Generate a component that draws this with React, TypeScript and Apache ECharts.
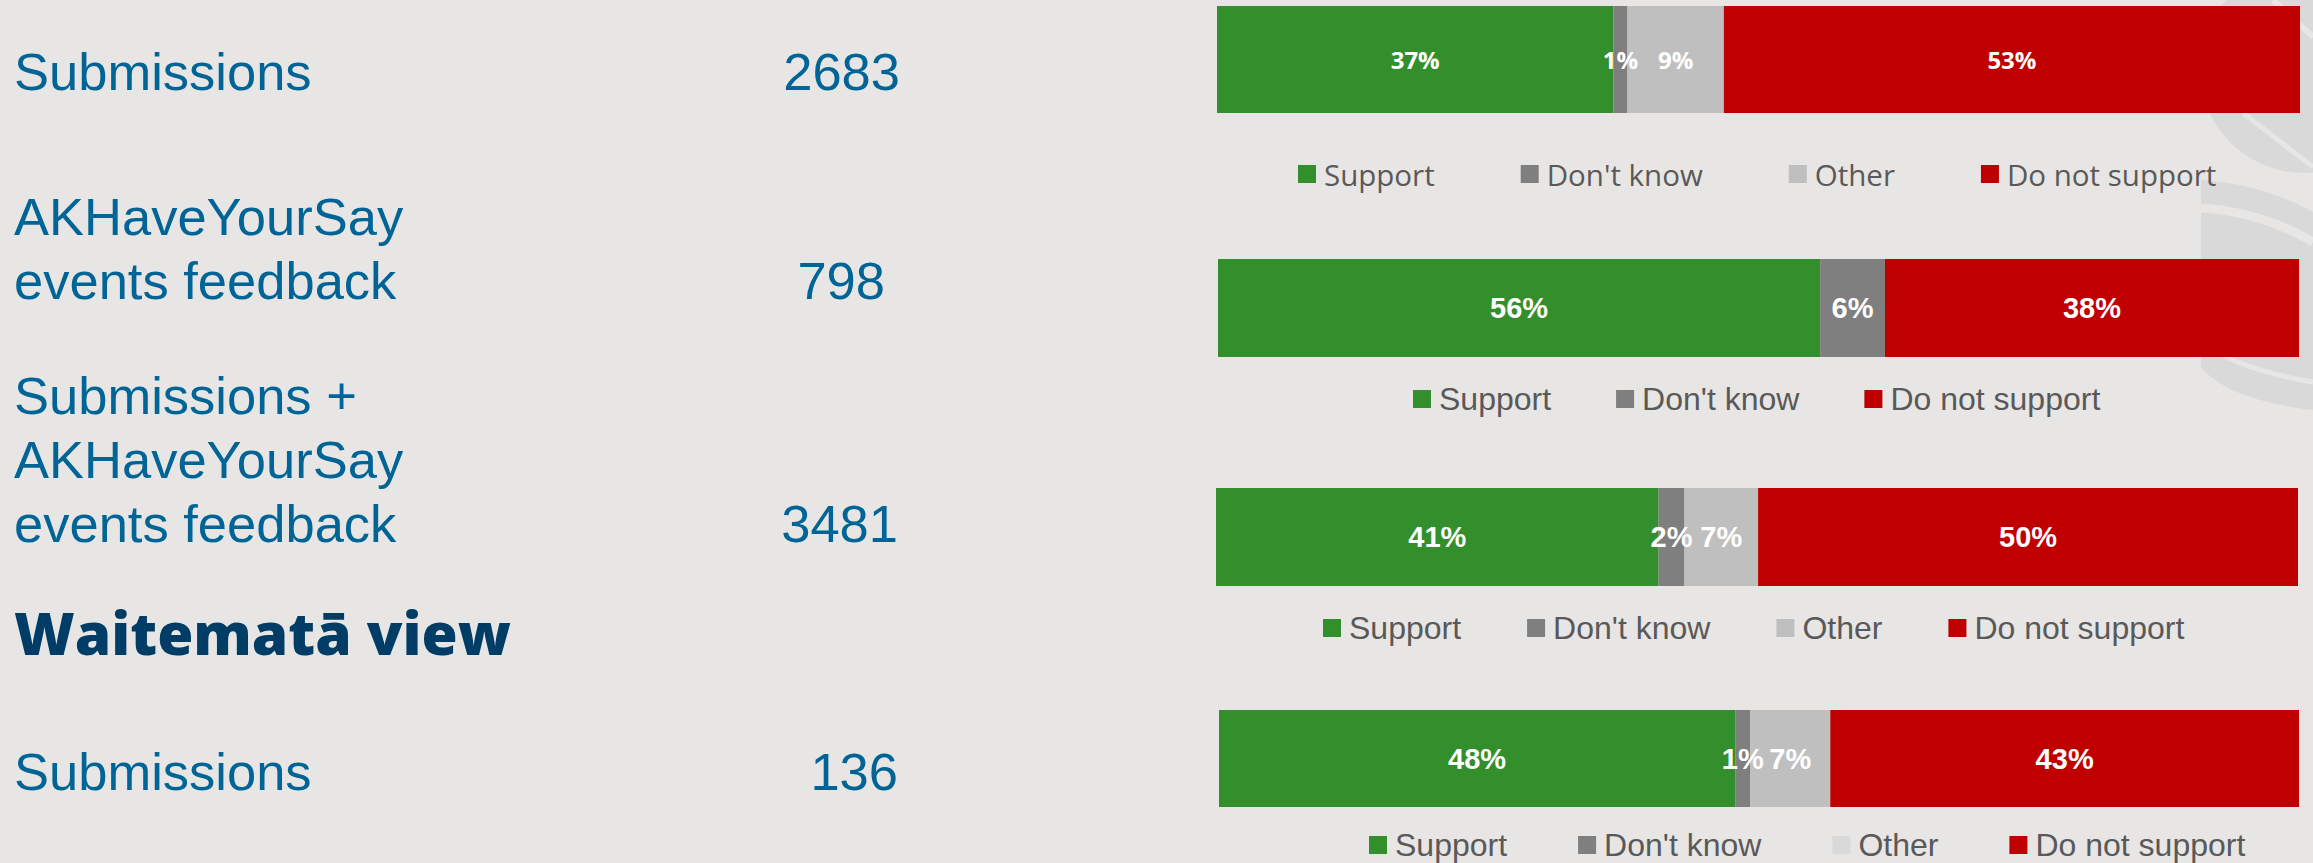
import React, { useEffect, useRef } from "react";
import * as echarts from "echarts";

const W = 2313;
const H = 863;
const BG = "#E8E6E4";
const DECO = "#D9D9D9";

// ---- data ----
const categories = ["Support", "Don't know", "Other", "Do not support"];
const colors = ["#338F2B", "#7F7F7F", "#BFBFBF", "#C00000"];

const rowLabels = [
  ["Submissions"],
  ["AKHaveYourSay", "events feedback"],
  ["Submissions +", "AKHaveYourSay", "events feedback"],
  ["Submissions"],
];
const rowCounts = [2683, 798, 3481, 136];
const sectionTitle = "Waitematā view";

const row1 = [36.6, 1.3, 8.9, 53.2];
const row2 = [55.7, 6.0, null, 38.3];
const row3 = [40.9, 2.4, 6.8, 49.9];
const row4 = [47.8, 1.4, 7.4, 43.4];
const rows: (number | null)[][] = [row1, row2, row3, row4];

// ---- layout ----
const grids = [
  { left: 1217, top: 6, width: 1083, height: 107 },
  { left: 1218, top: 259, width: 1081, height: 98 },
  { left: 1216, top: 488, width: 1082, height: 98 },
  { left: 1219, top: 710, width: 1080, height: 97 },
];
const SANS = '"Liberation Sans", Arial, sans-serif';
const OPEN = '"Open Sans", sans-serif';
const legendCfg = [
  { left: 1298, cy: 174, gap: 86, font: OPEN, size: 29.5, lh: 32 },
  { left: 1413, cy: 399, gap: 65, font: SANS, size: 32, lh: 32 },
  { left: 1323, cy: 628, gap: 66, font: SANS, size: 32, lh: 32 },
  { left: 1369, cy: 843, gap: 71, font: SANS, size: 32, lh: 28 },
];
const legendIconOverride: Record<number, Record<string, string>> = { 3: { Other: "#D9D9D9" } };
const labelCfg = [
  { font: OPEN, size: 24 },
  { font: SANS, size: 29 },
  { font: SANS, size: 29 },
  { font: SANS, size: 29 },
];
const lastLineY = [71, 280, 523, 771];
const countRight = [900, 885, 898, 898];
const LINE_STEP = 64;

function quad(p0: number[], c: number[], p1: number[], n = 16) {
  const pts: number[][] = [];
  for (let i = 0; i <= n; i++) {
    const t = i / n;
    const a = (1 - t) * (1 - t), b = 2 * (1 - t) * t, d = t * t;
    pts.push([a * p0[0] + b * c[0] + d * p1[0], a * p0[1] + b * c[1] + d * p1[1]]);
  }
  return pts;
}

export default function App() {
  const ref = useRef<HTMLDivElement>(null);
  useEffect(() => {
    if (!ref.current) return;
    const chart = echarts.init(ref.current, null, { renderer: "svg", width: W, height: H });

    const series: any[] = [];
    rows.forEach((row, r) => {
      row.forEach((v, i) => {
        if (v == null) return;
        series.push({
          type: "bar",
          name: categories[i],
          stack: "row" + r,
          xAxisIndex: r,
          yAxisIndex: r,
          barWidth: "100%",
          data: [v],
          itemStyle: { color: colors[i] },
          label: {
            show: true,
            position: "inside",
            color: "#FFFFFF",
            fontWeight: "bold",
            fontFamily: labelCfg[r].font,
            fontSize: labelCfg[r].size,
            formatter: (p: any) => Math.round(p.value) + "%",
          },
          emphasis: { disabled: true },
        });
      });
    });

    const graphics: any[] = [];
    // decorative background shapes
    graphics.push({ type: "circle", z: 0, shape: { cx: 2304, cy: 69, r: 104 }, style: { fill: DECO } });
    graphics.push({ type: "line", z: 1, shape: { x1: 2243, y1: 113, x2: 2313, y2: 167 }, style: { stroke: BG, lineWidth: 5 } });
    graphics.push({ type: "line", z: 1, shape: { x1: 2273, y1: 0, x2: 2313, y2: 37 }, style: { stroke: BG, lineWidth: 6 } });
    const top = quad([2201, 180], [2262, 184], [2313, 212]);
    const bottom = quad([2313, 410], [2228, 400], [2201, 367]);
    graphics.push({ type: "polygon", z: 0, shape: { points: [...top, ...bottom] }, style: { fill: DECO } });
    graphics.push({ type: "polyline", z: 1, shape: { points: quad([2201, 208], [2262, 212], [2313, 242]) }, style: { stroke: BG, lineWidth: 9, fill: "none" } });
    graphics.push({ type: "polyline", z: 1, shape: { points: quad([2201, 342], [2240, 370], [2313, 382]) }, style: { stroke: BG, lineWidth: 5, fill: "none" } });

    // left labels and counts
    rowLabels.forEach((lines, r) => {
      lines.forEach((t, i) => {
        graphics.push({
          type: "text",
          z: 5,
          x: 14,
          y: lastLineY[r] - (lines.length - 1 - i) * LINE_STEP,
          style: { text: t, fontFamily: SANS, fontSize: 52.5, fill: "#006496", align: "left", verticalAlign: "middle" },
        });
      });
      graphics.push({
        type: "text",
        z: 5,
        x: countRight[r],
        y: lastLineY[r],
        style: { text: String(rowCounts[r]), fontFamily: SANS, fontSize: 52.5, fill: "#006496", align: "right", verticalAlign: "middle" },
      });
    });
    graphics.push({
      type: "text",
      z: 5,
      x: 14,
      y: 632,
      style: { text: sectionTitle, fontFamily: OPEN, fontWeight: 800, fontSize: 58.5, fill: "#003D66", align: "left", verticalAlign: "middle" },
    });

    const option: any = {
      animation: false,
      backgroundColor: BG,
      grid: grids.map((g) => ({ ...g, containLabel: false })),
      xAxis: rows.map((row, r) => ({
        type: "value",
        gridIndex: r,
        min: 0,
        max: row.reduce((s: number, v) => s + (v ?? 0), 0),
        show: false,
      })),
      yAxis: rows.map((_, r) => ({
        type: "category",
        gridIndex: r,
        data: ["row" + (r + 1)],
        show: false,
      })),
      legend: legendCfg.map((l, r) => ({
        left: l.left,
        top: l.cy - l.lh / 2,
        orient: "horizontal",
        padding: 0,
        itemGap: l.gap,
        itemWidth: 18,
        itemHeight: 18,
        icon: "rect",
        selectedMode: false,
        data: categories
          .map((c, i) => ({ c, i }))
          .filter(({ i }) => rows[r][i] != null)
          .map(({ c, i }) => ({
            name: c,
            itemStyle: { color: (legendIconOverride[r] && legendIconOverride[r][c]) || colors[i] },
          })),
        textStyle: { fontFamily: l.font, fontSize: l.size, color: "#595959", lineHeight: l.lh, padding: [0, 0, 0, 3] },
      })),
      graphic: { elements: graphics },
      series,
    };
    chart.setOption(option);
    return () => chart.dispose();
  }, []);

  return (
    <div
      ref={ref}
      style={{ position: "fixed", left: 0, top: 0, width: W, height: H, background: BG }}
    />
  );
}
